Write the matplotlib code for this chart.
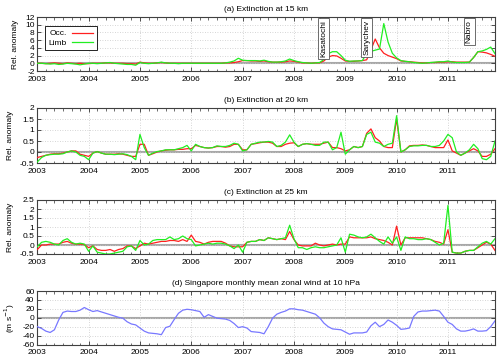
import numpy as np
import matplotlib
matplotlib.use("Agg")
import matplotlib.pyplot as plt
from matplotlib.ticker import MultipleLocator

plt.rcParams['font.family'] = ['Liberation Sans', 'DejaVu Sans']

# monthly time axis Jan 2003 .. Dec 2011
start_year = 2003
n_months = 108

occ_15 = [0,0,-0.1,0,0.1,0,-0.1,0.1,0,-0.1,0,-0.1,
          -0.1,0,0,0,0.1,0.1,0,0,0,-0.1,-0.1,-0.2,
          0.3,0.1,0,0,0.1,0.2,0.1,0,0,0,0,0,
          0,0,0,0,0,0,0,0,0.1,0.1,0.2,0.4,
          0.7,0.7,0.6,0.6,0.5,0.6,0.4,0.3,0.3,0.3,0.4,0.6,
          0.5,0.3,0.1,0.1,0,0.1,0.1,0.6,1.6,2.0,1.9,1.3,
          0.6,0.5,0.5,0.6,0.7,0.9,3.5,6.3,4.0,2.6,2.0,1.6,
          1.2,0.6,0.5,0.4,0.3,0.2,0.1,0.1,0.2,0.2,0.3,0.3,
          0.4,0.4,0.3,0.3,0.3,0.3,1.5,3.0,2.9,2.7,2.3,1.8]
limb_15 = [0,0,-0.1,-0.2,-0.1,-0.3,-0.2,0,-0.1,-0.2,-0.4,-0.2,
           0,0,-0.1,0,0.1,0.2,0,-0.1,-0.2,-0.3,-0.3,-0.5,
           0.2,0,-0.1,0,0.1,0.3,0.1,0,0,-0.1,0,0,
           0,0,0,0,0,0,0,0,0.1,0.3,0.6,1.3,
           0.8,0.7,0.7,0.7,0.6,0.8,0.5,0.3,0.3,0.4,0.6,1.1,
           0.7,0.4,0.2,0.1,0,0.1,0.2,1.0,2.5,3.0,3.0,2.0,
           0.8,0.5,0.6,0.6,0.7,2.7,3.1,3.4,3.7,10.3,5.5,2.6,
           1.4,0.7,0.5,0.4,0.2,0.1,0,0.1,0.2,0.3,0.4,0.4,
           0.6,0.3,0.2,0.2,0.2,0.3,1.5,3.0,3.2,3.6,4.2,2.5]

occ_20 = [-0.25,-0.2,-0.15,-0.1,-0.08,-0.08,-0.05,0,0.05,0.05,-0.1,-0.15,
          -0.2,-0.05,0.02,-0.05,-0.1,-0.1,-0.1,-0.08,-0.1,-0.15,-0.2,-0.2,
          0.35,0.35,-0.15,-0.08,0,0.05,0.08,0.1,0.1,0.12,0.12,0.15,
          0.15,0.3,0.25,0.2,0.18,0.2,0.25,0.25,0.22,0.25,0.35,0.35,
          0.1,0.1,0.35,0.38,0.42,0.45,0.45,0.4,0.25,0.25,0.35,0.4,
          0.42,0.25,0.35,0.38,0.35,0.35,0.35,0.4,0.45,0.2,0.2,0.15,
          0.05,0.1,0.25,0.2,0.25,0.85,1.05,0.65,0.5,0.25,0.2,0.2,
          1.5,0.0,0.1,0.28,0.3,0.3,0.32,0.3,0.25,0.2,0.2,0.2,
          0.55,0.05,-0.05,-0.15,-0.05,0.05,0.15,0.05,-0.2,-0.2,-0.1,0.15]
limb_20 = [-0.45,-0.25,-0.15,-0.12,-0.1,-0.1,-0.08,0,0.05,0.0,-0.15,-0.2,
           -0.35,-0.05,0.02,-0.05,-0.1,-0.1,-0.12,-0.1,-0.08,-0.12,-0.2,-0.35,
           0.8,0.2,-0.15,-0.05,0.02,0.05,0.1,0.1,0.1,0.15,0.2,0.3,
           0.05,0.35,0.25,0.2,0.18,0.2,0.28,0.25,0.25,0.3,0.4,0.35,
           0.05,0.1,0.35,0.4,0.45,0.45,0.48,0.45,0.25,0.3,0.45,0.78,
           0.45,0.25,0.35,0.38,0.35,0.3,0.3,0.45,0.45,0.1,0.2,0.9,
           -0.1,0.1,0.25,0.2,0.25,0.8,0.9,0.45,0.4,0.25,0.35,0.4,
           1.65,0.0,0.1,0.25,0.28,0.28,0.3,0.3,0.25,0.25,0.3,0.5,
           0.8,0.65,0.0,-0.15,-0.05,0.1,0.35,0.15,-0.3,-0.35,-0.2,0.5]

occ_25 = [-0.25,0.0,0.0,0.05,0.05,0.05,0.15,0.2,0.1,0.05,0.05,0.02,
          -0.15,-0.05,-0.25,-0.3,-0.3,-0.25,-0.35,-0.25,-0.2,-0.05,-0.05,-0.2,
          -0.05,0.1,0.05,0.1,0.15,0.2,0.2,0.25,0.25,0.2,0.3,0.2,
          0.55,0.2,0.15,0.05,0.15,0.2,0.2,0.2,0.1,-0.05,-0.1,-0.1,
          -0.1,0.15,0.2,0.2,0.3,0.25,0.4,0.35,0.3,0.35,0.3,0.75,
          0.3,0.0,-0.05,-0.05,-0.05,0.1,0.0,-0.05,0.0,0.05,0.0,0.05,
          0.05,0.45,0.4,0.4,0.4,0.4,0.45,0.35,0.3,0.25,0.15,0.0,
          1.05,0.0,0.4,0.4,0.4,0.4,0.4,0.35,0.3,0.2,0.15,0.05,
          0.85,-0.4,-0.45,-0.45,-0.35,-0.3,-0.3,-0.15,0.0,0.15,0.05,-0.3]
limb_25 = [-0.1,0.15,0.2,0.15,0.05,0.0,0.25,0.35,0.15,0.05,0.1,0.05,
           -0.35,-0.05,-0.4,-0.45,-0.5,-0.5,-0.45,-0.4,-0.35,-0.1,-0.05,-0.3,
           0.25,0.0,0.05,0.25,0.3,0.3,0.3,0.45,0.3,0.35,0.5,0.35,
           0.3,-0.05,0.0,0.05,0.1,0.05,0.1,0.1,0.05,-0.05,-0.2,0.0,
           -0.4,0.15,0.2,0.2,0.3,0.25,0.4,0.35,0.3,0.35,0.4,1.1,
           0.35,-0.15,-0.15,-0.25,-0.15,-0.1,-0.15,-0.15,-0.1,-0.05,0.0,0.4,
           -0.4,0.6,0.55,0.45,0.4,0.45,0.6,0.4,0.2,0.05,0.45,0.1,
           0.45,-0.3,0.45,0.35,0.35,0.3,0.3,0.35,0.3,0.15,0.0,0.1,
           2.2,-0.4,-0.45,-0.45,-0.35,-0.3,-0.3,-0.1,0.1,0.2,0.05,0.35]

wind_10hpa = [-20,-24,-30,-33,-27,-5,12,15,14,14,17,23,
              18,14,16,13,10,7,4,1,-1,-9,-14,-16,
              -23,-30,-34,-35,-36,-38,-22,-19,-4,10,17,19,
              18,16,14,1,7,3,-1,-2,-3,-6,-13,-22,
              -20,-23,-31,-32,-33,-36,-20,-1,8,12,15,20,
              20,18,17,14,11,8,0,-12,-20,-25,-26,-27,
              -32,-37,-34,-34,-34,-32,-18,-10,-20,-15,-5,-10,
              -17,-26,-25,-23,3,13,15,15,16,17,15,3,
              -10,-15,-25,-30,-30,-28,-25,-30,-30,-29,-20,-7]

volcano_names = ["Kasatochi", "Sarychev", "Nabro"]
volcano_dates = [2008 + 7/12, 2009 + 5/12, 2011 + 5/12]

titles = ["(a) Extinction at 15 km", "(b) Extinction at 20 km",
          "(c) Extinction at 25 km", "(d) Singapore monthly mean zonal wind at 10 hPa"]

t = start_year + np.arange(n_months) / 12.0

W, H = 500, 359
fig = plt.figure(figsize=(W/100, H/100), dpi=100)

def axes_px(top, bottom, left=37.3, right=495):
    return fig.add_axes([left/W, 1-bottom/H, (right-left)/W, (bottom-top)/H])

boxes = [(17, 71), (108, 163), (200, 254), (291, 344.5)]
ylims = [(-2, 12), (-0.5, 2), (-0.5, 2.5), (-60, 60)]
ymaj = [2, 0.5, 0.5, 20]

red = '#ff2020'
green = '#22ee22'
blue = '#7878ff'
fs = 6

axs = []
for i, (tp, bt) in enumerate(boxes):
    ax = axes_px(tp, bt)
    axs.append(ax)
    ax.set_xlim(2003, 2003 + 107/12)
    ax.set_ylim(*ylims[i])
    ax.xaxis.set_major_locator(MultipleLocator(1))
    ax.xaxis.set_minor_locator(MultipleLocator(2/12))
    ax.yaxis.set_major_locator(MultipleLocator(ymaj[i]))
    ax.xaxis.set_major_formatter(matplotlib.ticker.FuncFormatter(lambda v, p: f"{int(round(v))}"))
    ax.yaxis.set_major_formatter(matplotlib.ticker.FuncFormatter(lambda v, p: f"{v:g}"))
    ax.grid(True, which='major', color='#c8c8c8', linestyle=(0, (1, 2)), linewidth=0.6)
    ax.axhline(0, color='#a8a8a8', linewidth=1.5, zorder=1.5)
    ax.tick_params(which='both', direction='in', top=True, right=True, labelsize=fs, colors='#333333', labelcolor='black')
    ax.tick_params(axis='x', which='major', pad=3.5)
    ax.tick_params(axis='y', which='major', pad=2)
    ax.tick_params(which='major', length=3, width=0.6)
    ax.tick_params(which='minor', length=1.8, width=0.5)
    for s in ax.spines.values():
        s.set_color('#404040')
        s.set_linewidth(0.8)
    ax.set_title(titles[i], fontsize=fs, pad=4)

ax = axs[0]
ax.plot(t, occ_15, color=red, lw=0.9, label='Occ.', zorder=3)
ax.plot(t, limb_15, color=green, lw=0.9, label='Limb', zorder=3)
ax.set_ylabel('Rel. anomaly', fontsize=fs, labelpad=4)
leg = ax.legend(loc='upper left', bbox_to_anchor=(0.008, 0.905), fontsize=fs, markerfirst=False,
                fancybox=False, edgecolor='black', framealpha=1, handlelength=2.6,
                borderpad=0.4, labelspacing=0.2, handletextpad=0.6)
leg.get_frame().set_linewidth(0.6)
for name, d in zip(volcano_names, volcano_dates):
    ax.text(d, 11.3, name, rotation=90, ha='center', va='top', fontsize=fs,
            bbox=dict(boxstyle='square,pad=0.25', fc='white', ec='#555555', lw=0.6), zorder=5)

ax = axs[1]
ax.plot(t, occ_20, color=red, lw=0.9, zorder=3)
ax.plot(t, limb_20, color=green, lw=0.9, zorder=3)
ax.set_ylabel('Rel. anomaly', fontsize=fs, labelpad=4)

ax = axs[2]
ax.plot(t, occ_25, color=red, lw=0.9, zorder=3)
ax.plot(t, limb_25, color=green, lw=0.9, zorder=3)
ax.set_ylabel('Rel. anomaly', fontsize=fs, labelpad=4)

ax = axs[3]
ax.plot(t, wind_10hpa, color=blue, lw=0.9, zorder=3)
ax.set_ylabel('(m s$^{-1}$)', fontsize=fs, labelpad=4)

fig.savefig('out.png', dpi=100)
